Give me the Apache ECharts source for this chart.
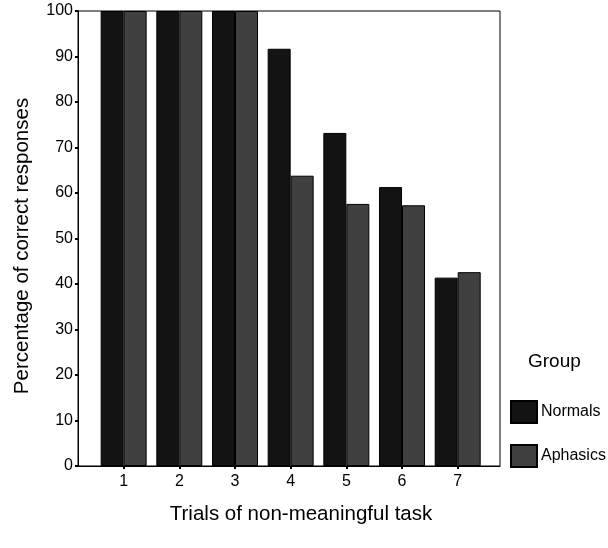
<!DOCTYPE html>
<html>
<head>
<meta charset="utf-8">
<script src="https://cdn.jsdelivr.net/npm/echarts@6/dist/echarts.min.js"></script>
<style>html,body{margin:0;padding:0;background:#fff;}#c{width:608px;height:548px;}</style>
</head>
<body>
<div id="c"></div>
<script>
var trials = [1, 2, 3, 4, 5, 6, 7];
var normals = [100, 100, 100, 91.7, 73.2, 61.3, 41.4];
var aphasics = [100, 100, 100, 63.8, 57.6, 57.3, 42.6];
var yTicks = [0, 10, 20, 30, 40, 50, 60, 70, 80, 90, 100];
var seriesNames = ['Normals', 'Aphasics'];

var FONT = 'Liberation Sans, Arial, sans-serif';
var chart = echarts.init(document.getElementById('c'), null, {renderer: 'canvas'});
function pairs(vals) { return trials.map(function (t, i) { return [t, vals[i]]; }); }

chart.setOption({
  animation: false,
  backgroundColor: '#fff',
  textStyle: {fontFamily: FONT},
  grid: {left: 78, top: 11, right: 108, bottom: 82, show: true, borderColor: '#000', borderWidth: 1, backgroundColor: 'transparent'},
  xAxis: {
    type: 'value', min: 0.18, max: 7.76,
    splitLine: {show: false},
    axisLine: {lineStyle: {color: '#000', width: 1}},
    axisTick: {show: true, customValues: trials, length: 3, lineStyle: {color: '#000', width: 2}},
    axisLabel: {customValues: trials, color: '#000', fontSize: 16, fontFamily: FONT, margin: 8}
  },
  yAxis: {
    type: 'value', min: 0, max: 100, interval: 10,
    splitLine: {show: false},
    axisLine: {show: true, lineStyle: {color: '#000', width: 1}},
    axisTick: {show: true, length: 3, lineStyle: {color: '#000', width: 2}},
    axisLabel: {color: '#000', fontSize: 16, fontFamily: FONT, margin: 5}
  },
  legend: {
    orient: 'vertical', left: 505, top: 395,
    itemWidth: 26, itemHeight: 22, itemGap: 20,
    icon: 'rect',
    data: seriesNames,
    textStyle: {color: '#000', fontSize: 16, fontFamily: FONT, padding: [0, 0, 0, -1]}
  },
  graphic: [
    {type: 'text', x: 528, y: 362, style: {text: 'Group', font: '19px ' + FONT, fill: '#000', textVerticalAlign: 'middle'}},
    {type: 'text', x: 301, y: 514, style: {text: 'Trials of non-meaningful task', font: '20.5px ' + FONT, fill: '#000', textAlign: 'center', textVerticalAlign: 'middle'}},
    {type: 'text', x: 22, y: 246, rotation: Math.PI / 2, style: {text: 'Percentage of correct responses', font: '20.5px ' + FONT, fill: '#000', textAlign: 'center', textVerticalAlign: 'middle'}}
  ],
  series: [
    {name: seriesNames[0], type: 'bar', data: pairs(normals), barWidth: 23, barGap: '0%',
     itemStyle: {color: '#131313', borderColor: '#000', borderWidth: 1}},
    {name: seriesNames[1], type: 'bar', data: pairs(aphasics), barWidth: 23, barGap: '0%',
     itemStyle: {color: '#404040', borderColor: '#000', borderWidth: 1}}
  ]
});
</script>
</body>
</html>
